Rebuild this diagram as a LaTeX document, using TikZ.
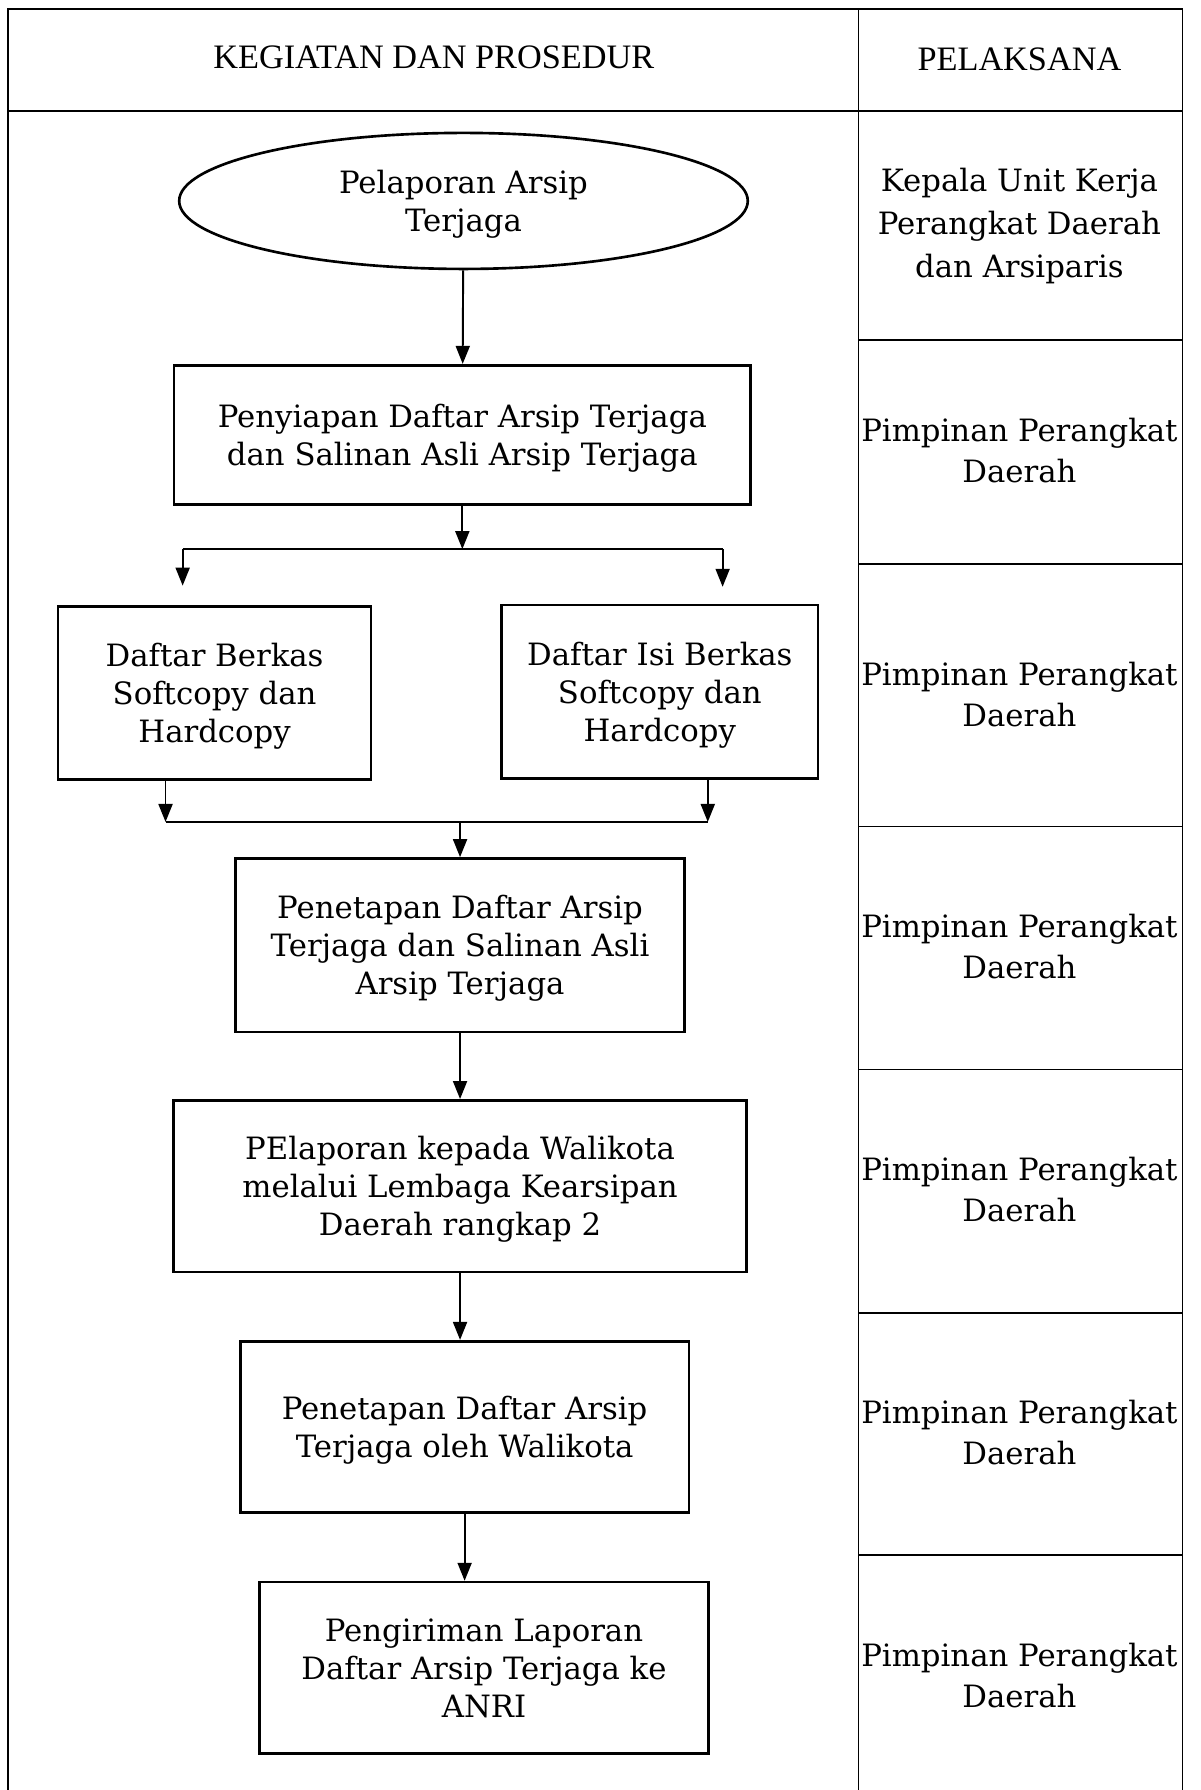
\documentclass[tikz,border=0pt]{standalone}
\usepackage{fontspec}
\setmainfont{DejaVu Serif}
\newfontfamily\headfont{Liberation Serif}
\usepackage{tikz}
\usetikzlibrary{shapes.geometric,arrows.meta}

\begin{document}
\begin{tikzpicture}[x=0.022833cm,y=-0.022833cm,
    kotak/.style={draw,line width=1.5pt,align=center,inner sep=0pt,text depth=0pt,font=\fontsize{17.5}{21.6}\selectfont},
    pelaksana/.style={align=center,inner sep=0pt,font=\fontsize{17.5}{23.3}\selectfont},
    judul/.style={font=\headfont\fontsize{19.5}{23}\selectfont},
    panah/.style={-{Triangle[length=0.36cm,width=0.28cm]},line width=1.1pt},
    garis/.style={line width=1.1pt},
    tabel/.style={line width=0.9pt}]
    \useasboundingbox (0,0) rectangle (1052,1568);
    \draw[tabel] (7,1568) -- (7,8) -- (1036,8) -- (1036,1568);
    \draw[tabel] (7,97) -- (1036,97);
    \draw[tabel] (752,8) -- (752,1568);
    \foreach \y in {298,494,724,937,1150,1362}
        \draw[tabel] (752,\y) -- (1036,\y);
    \node[judul] (kegiatan) at (380,50) {KEGIATAN DAN PROSEDUR};
    \node[judul] (pelaksana) at (893,52) {PELAKSANA};
    \node[kotak,ellipse,minimum width=11.37cm,minimum height=2.72cm] (mulai) at (406,176) {Pelaporan Arsip\\Terjaga};
    \node[kotak,minimum width=11.53cm,minimum height=2.79cm] (siap) at (405,381) {Penyiapan Daftar Arsip Terjaga\\dan Salinan Asli Arsip Terjaga};
    \node[kotak,minimum width=6.26cm,minimum height=3.47cm] (berkas) at (188,607) {Daftar Berkas\\Softcopy dan\\Hardcopy};
    \node[kotak,minimum width=6.32cm,minimum height=3.47cm] (isi) at (578,606) {Daftar Isi Berkas\\Softcopy dan\\Hardcopy};
    \node[kotak,minimum width=8.97cm,minimum height=3.47cm] (tetap) at (403,828) {Penetapan Daftar Arsip\\Terjaga dan Salinan Asli\\Arsip Terjaga};
    \node[kotak,minimum width=11.46cm,minimum height=3.43cm] (lapor) at (403,1039) {PElaporan kepada Walikota\\melalui Lembaga Kearsipan\\Daerah rangkap 2};
    \node[kotak,minimum width=8.97cm,minimum height=3.43cm] (walikota) at (407,1250) {Penetapan Daftar Arsip\\Terjaga oleh Walikota};
    \node[kotak,minimum width=8.97cm,minimum height=3.43cm] (anri) at (424,1461) {Pengiriman Laporan\\Daftar Arsip Terjaga ke\\ANRI};
    \node[pelaksana,font=\fontsize{17.5}{24.6}\selectfont] (p1) at (893,198) {Kepala Unit Kerja\\Perangkat Daerah\\dan Arsiparis};
    \node[pelaksana] (p2) at (893,395) {Pimpinan Perangkat\\Daerah};
    \node[pelaksana] (p3) at (893,608) {Pimpinan Perangkat\\Daerah};
    \node[pelaksana] (p4) at (893,829) {Pimpinan Perangkat\\Daerah};
    \node[pelaksana] (p5) at (893,1042) {Pimpinan Perangkat\\Daerah};
    \node[pelaksana] (p6) at (893,1255) {Pimpinan Perangkat\\Daerah};
    \node[pelaksana] (p7) at (893,1468) {Pimpinan Perangkat\\Daerah};
    \coordinate (cabangkiri) at (160,481);
    \coordinate (cabangkanan) at (633,481);
    \coordinate (ujungkiri) at (160,513);
    \coordinate (ujungkanan) at (633,514);
    \coordinate (gabungkiri) at (145,720);
    \coordinate (gabungkanan) at (620,720);
    \draw[panah] (mulai) -- (siap);
    \draw[panah] (siap.south) -- (siap.south |- cabangkiri);
    \draw[garis] (cabangkiri) -- (cabangkanan);
    \draw[panah] (cabangkiri) -- (ujungkiri);
    \draw[panah] (cabangkanan) -- (ujungkanan);
    \draw[panah] (berkas.south -| gabungkiri) -- (gabungkiri);
    \draw[panah] (isi.south -| gabungkanan) -- (gabungkanan);
    \draw[garis] (gabungkiri) -- (gabungkanan);
    \draw[panah] (gabungkiri -| tetap.north) -- (tetap.north);
    \draw[panah] (tetap.south) -- (tetap.south |- lapor.north);
    \draw[panah] (lapor.south) -- (lapor.south |- walikota.north);
    \draw[panah] (walikota.south) -- (walikota.south |- anri.north);
\end{tikzpicture}
\end{document}
